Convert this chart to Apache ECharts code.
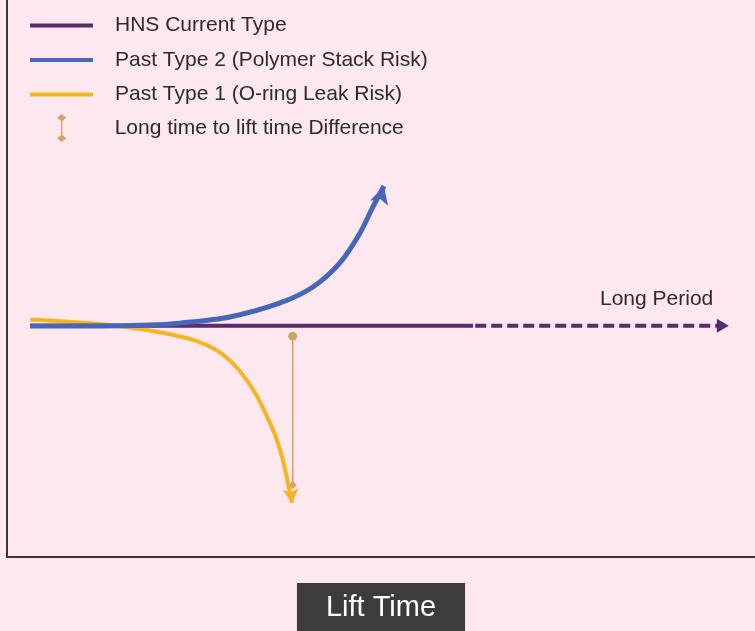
<!DOCTYPE html>
<html>
<head>
<meta charset="utf-8">
<script src="https://cdn.jsdelivr.net/npm/echarts@6/dist/echarts.min.js"></script>
<style>
  html, body { margin: 0; padding: 0; background: #fce8ee; }
  #chart { width: 755px; height: 631px; }
</style>
</head>
<body>
<div id="chart"></div>
<script>
// series names
const names = [
    "HNS Current Type",
    "Past Type 2 (Polymer Stack Risk)",
    "Past Type 1 (O-ring Leak Risk)",
    "Long time to lift time Difference"
]

// HNS current type: flat, solid part then dashed "long period" part
const hnsSolid = [[3.1, 0], [62.3, 0]]
const hnsDashed = [[62.6, 0], [95.7, 0]]

// past type 2 rises up
const pastType2 = [
    [3.1, -0.1], [12.4, -0.1], [19.1, 0.2], [23.1, 0.8], [29.8, 2.7],
    [36.5, 7.0], [40.9, 11.9], [44.5, 19.3], [47.2, 28.5], [48.9, 36.4], [50.4, 42.9]
]

// past type 1 falls down
const pastType1 = [
    [3.1, 1.8], [7.1, 1.4], [12.4, 0.5], [17.8, -1.0], [21.8, -2.6], [25.1, -4.5],
    [27.8, -7.2], [29.8, -10.7], [31.4, -14.7], [33.2, -20.7], [34.6, -27.1],
    [36.0, -34.5], [37.0, -42.4], [38.1, -54.4]
]

// difference marker
const diffLine = [[38.2, -3.2], [38.2, -48.9]]

const purple = "#5a2a6a"
const blue = "#4666b9"
const yellow = "#f4b520"
const brown = "#d2a06a"
const textColor = "#2e2a2c"
const font = "Liberation Sans, Arial, sans-serif"

// put an arrow on the last point of a series
function withArrow(points, symbol, rotate, size) {
    return points.map(function (p, i) {
        if (i < points.length - 1) return p
        return { value: p, symbol: symbol, symbolRotate: rotate, symbolSize: size }
    })
}

let chart = echarts.init(document.getElementById("chart"))
let option = {
    backgroundColor: "#fce8ee",
    animation: false,
    textStyle: { fontFamily: font },
    grid: { left: 7, right: 0, top: 0, bottom: 74, outerBoundsMode: "none", containLabel: false },
    legend: [
        {
            orient: "vertical",
            left: 30,
            top: 15,
            padding: 0,
            itemWidth: 63,
            itemHeight: 4,
            itemGap: 13.5,
            icon: "rect",
            textStyle: { fontSize: 21, color: textColor, padding: [0, 0, 0, 17] },
            data: names.slice(0, 3)
        },
        {
            orient: "vertical",
            left: 57,
            top: 114,
            padding: 0,
            itemWidth: 10,
            itemHeight: 28,
            icon: "path://M5,0L10,4L5,8L0,4ZM4.3,4L5.7,4L5.7,26L4.3,26ZM5,22L10,26L5,30L0,26Z",
            textStyle: { fontSize: 21, color: textColor, padding: [0, 0, 0, 43] },
            data: [names[3]]
        }
    ],
    xAxis: {
        type: "value",
        min: 0,
        max: 100,
        axisLine: { show: true, onZero: false, lineStyle: { color: "#3a3436", width: 2 } },
        axisTick: { show: false },
        axisLabel: { show: false },
        splitLine: { show: false },
        name: "Lift Time",
        nameLocation: "middle",
        nameGap: 26,
        nameTextStyle: {
            color: "#ffffff",
            fontSize: 29,
            backgroundColor: "#3d3b3c",
            padding: [10, 29, 10, 29]
        }
    },
    yAxis: {
        type: "value",
        min: -71,
        max: 100,
        axisLine: { show: true, onZero: false, lineStyle: { color: "#3a3436", width: 2 } },
        axisTick: { show: false },
        axisLabel: { show: false },
        splitLine: { show: false }
    },
    graphic: [
        {
            type: "text",
            left: 600,
            top: 289,
            style: { text: "Long Period", fontSize: 21, fill: textColor, fontFamily: font }
        }
    ],
    series: [
        {
            name: names[0],
            type: "line",
            data: hnsSolid,
            symbol: "none",
            color: purple,
            lineStyle: { color: purple, width: 4 },
            z: 3
        },
        {
            name: names[0],
            type: "line",
            data: withArrow(hnsDashed, "triangle", -90, [14, 12]),
            symbol: "none",
            color: purple,
            itemStyle: { color: purple },
            lineStyle: { color: purple, width: 4, type: [11, 5] },
            z: 3
        },
        {
            name: names[1],
            type: "line",
            data: withArrow(pastType2, "arrow", -16, [14, 18]),
            symbol: "none",
            smooth: 0.3,
            color: blue,
            itemStyle: { color: blue },
            lineStyle: { color: blue, width: 5 },
            z: 4
        },
        {
            name: names[2],
            type: "line",
            data: withArrow(pastType1, "arrow", -174, [12, 14]),
            symbol: "none",
            smooth: 0.3,
            color: yellow,
            itemStyle: { color: yellow },
            lineStyle: { color: yellow, width: 4 },
            z: 2
        },
        {
            name: names[3],
            type: "line",
            data: [
                { value: diffLine[0], symbol: "circle", symbolSize: 9 },
                { value: diffLine[1], symbol: "diamond", symbolSize: 8 }
            ],
            symbol: "none",
            color: brown,
            itemStyle: { color: brown },
            lineStyle: { color: brown, width: 1.5 },
            z: 1
        }
    ]
}
chart.setOption(option)
</script>
</body>
</html>
